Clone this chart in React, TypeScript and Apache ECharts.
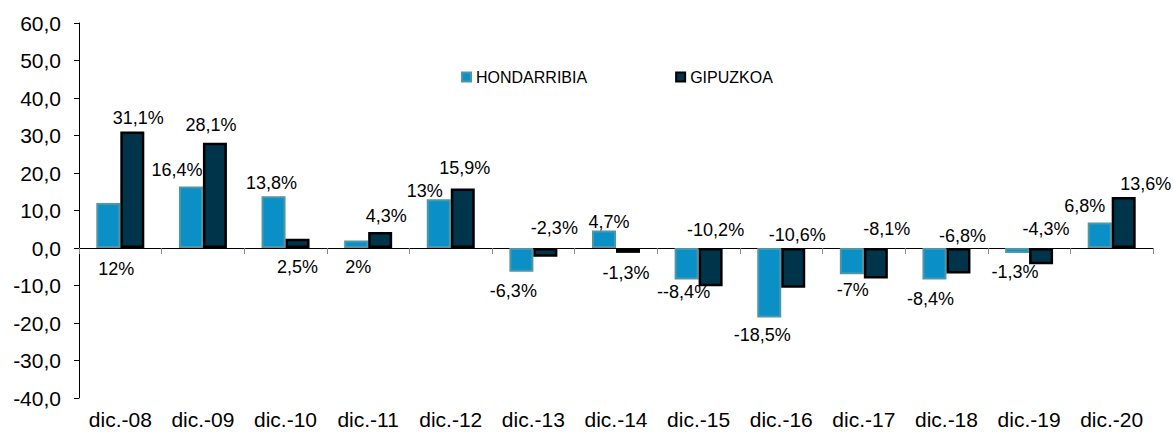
import React, { useEffect, useRef } from "react";
import * as echarts from "echarts";

const categories = ["dic.-08", "dic.-09", "dic.-10", "dic.-11", "dic.-12", "dic.-13", "dic.-14", "dic.-15", "dic.-16", "dic.-17", "dic.-18", "dic.-19", "dic.-20"];
const hondarribia = [12, 16.4, 13.8, 2, 13, -6.3, 4.7, -8.4, -18.5, -7, -8.4, -1.3, 6.8];
const gipuzkoa = [31.1, 28.1, 2.5, 4.3, 15.9, -2.3, -1.3, -10.2, -10.6, -8.1, -6.8, -4.3, 13.6];
const hondLabels = ["12%", "16,4%", "13,8%", "2%", "13%", "-6,3%", "4,7%", "--8,4%", "-18,5%", "-7%", "-8,4%", "-1,3%", "6,8%"];
const gipLabels = ["31,1%", "28,1%", "2,5%", "4,3%", "15,9%", "-2,3%", "-1,3%", "-10,2%", "-10,6%", "-8,1%", "-6,8%", "-4,3%", "13,6%"];
const yTicks = { min: -40, max: 60, interval: 10 };

// label placement (pixel offsets from the bar centre), as placed in the original
const hondOffsets = [[8, 43], [-14, -47], [-2, -39], [2, 23], [-14, -33], [-8, 31], [5, -17], [-3, 28], [-7, 52], [1, 29], [-4, 35], [-2, 22], [-15, -29]];
const gipOffsets = [[6, -72], [-4, -70], [0, 24], [6, -24], [2, -50], [9, -24], [-2, 23], [5, -37], [4, -33], [11, -34], [4, -25], [5, -27], [22, -39]];

const FONT = "'Liberation Sans', Arial, Helvetica, sans-serif";

export default function App() {
  const ref = useRef<HTMLDivElement>(null);
  useEffect(() => {
    if (!ref.current) return;
    const chart = echarts.init(ref.current, null, { renderer: "svg" });
    const labelBase = {
      show: true,
      position: "inside",
      color: "#000",
      fontSize: 18,
      fontFamily: FONT,
    };
    chart.setOption({
      animation: false,
      textStyle: { fontFamily: FONT },
      grid: { left: 79, right: 20, top: 23, bottom: 34, containLabel: false, outerBoundsMode: "none" },
      legend: {
        left: 456,
        top: 64,
        itemWidth: 9,
        itemHeight: 9,
        itemGap: 88,
        icon: "rect",
        textStyle: { fontSize: 16, color: "#000", fontFamily: FONT },
        data: ["HONDARRIBIA", "GIPUZKOA"],
      },
      xAxis: [
        {
          type: "category",
          data: categories,
          position: "bottom",
          axisLine: { show: false, onZero: false },
          axisTick: { show: false },
          axisLabel: { margin: 11, fontSize: 21, lineHeight: 21, color: "#000", fontFamily: FONT },
          splitLine: { show: false },
        },
        {
          type: "category",
          data: categories,
          position: "bottom",
          axisLine: { show: true, onZero: true, lineStyle: { color: "#000", width: 1 } },
          axisTick: { show: true, length: 6, lineStyle: { color: "#888" } },
          axisLabel: { show: false },
          splitLine: { show: false },
        },
      ],
      yAxis: {
        type: "value",
        min: yTicks.min,
        max: yTicks.max,
        interval: yTicks.interval,
        axisLine: { show: true, lineStyle: { color: "#000", width: 1 } },
        axisTick: { show: true, length: 5, lineStyle: { color: "#000" } },
        axisLabel: {
          margin: 18,
          fontSize: 21,
          color: "#000",
          fontFamily: FONT,
          formatter: (v: number) => v.toFixed(1).replace(".", ","),
        },
        splitLine: { show: false },
      },
      series: [
        {
          name: "HONDARRIBIA",
          type: "bar",
          xAxisIndex: 0,
          barWidth: 24,
          barGap: "0%",
          itemStyle: { color: "#0A8FC6", borderColor: "#4E97A8", borderWidth: 2 },
          data: hondarribia.map((v, i) => ({ value: v, label: { offset: hondOffsets[i] } })),
          label: { ...labelBase, formatter: (p: any) => hondLabels[p.dataIndex] },
        },
        {
          name: "GIPUZKOA",
          type: "bar",
          xAxisIndex: 0,
          barWidth: 24,
          barGap: "0%",
          itemStyle: { color: "#00344A", borderColor: "#000", borderWidth: 2.5 },
          data: gipuzkoa.map((v, i) => ({ value: v, label: { offset: gipOffsets[i] } })),
          label: { ...labelBase, formatter: (p: any) => gipLabels[p.dataIndex] },
        },
      ],
    });
    return () => chart.dispose();
  }, []);
  return (
    <div
      ref={ref}
      style={{ position: "fixed", left: 0, top: 0, width: 1173, height: 432, background: "#fff" }}
    />
  );
}
